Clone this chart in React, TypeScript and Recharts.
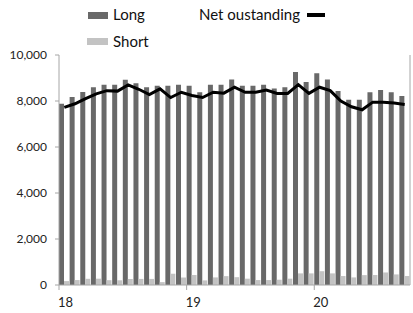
import { ComposedChart, Bar, Line, XAxis, YAxis, Legend } from 'recharts'

const months = [
  'Jan 18', 'Feb 18', 'Mar 18', 'Apr 18', 'May 18', 'Jun 18', 'Jul 18', 'Aug 18', 'Sep 18', 'Oct 18', 'Nov 18', 'Dec 18',
  'Jan 19', 'Feb 19', 'Mar 19', 'Apr 19', 'May 19', 'Jun 19', 'Jul 19', 'Aug 19', 'Sep 19', 'Oct 19', 'Nov 19', 'Dec 19',
  'Jan 20', 'Feb 20', 'Mar 20', 'Apr 20', 'May 20', 'Jun 20', 'Jul 20', 'Aug 20', 'Sep 20',
]

const longPositions = [
  7880, 8170, 8390, 8600, 8710, 8710, 8920, 8770, 8600, 8660, 8660, 8710,
  8660, 8380, 8710, 8710, 8930, 8660, 8660, 8710, 8540, 8600, 9260, 8830,
  9210, 8930, 8430, 8050, 8050, 8380, 8480, 8380, 8220,
]

const shortPositions = [
  170, 215, 270, 275, 210, 205, 265, 265, 265, 125, 490, 325,
  435, 200, 330, 385, 340, 275, 215, 215, 230, 275, 505, 505,
  600, 505, 390, 330, 430, 435, 545, 460, 390,
]

const netOutstanding = [
  7720, 7880, 8100, 8310, 8450, 8430, 8700, 8510, 8280, 8530, 8150, 8380,
  8240, 8150, 8380, 8340, 8600, 8380, 8380, 8480, 8330, 8330, 8710, 8330,
  8600, 8450, 8000, 7750, 7620, 7950, 7950, 7910, 7850,
]

const yTicks = [0, 2000, 4000, 6000, 8000, 10000]

const data = months.map((month, i) => ({
  month,
  long: longPositions[i],
  short: shortPositions[i],
  net: netOutstanding[i],
}))

const LONG_COLOR = '#696969'
const SHORT_COLOR = '#c3c3c3'
const AXIS_COLOR = '#a6a6a6'
const HALF_BAND = 351 / months.length / 2

// year label sits at the start of January, not at the bar centre
function YearTick({ x, y, payload }: any) {
  const v: string = payload.value
  if (!v.startsWith('Jan')) return null
  const x0 = x - HALF_BAND
  return (
    <g>
      <line x1={x0} y1={y} x2={x0} y2={y + 5} stroke={AXIS_COLOR} />
      <text x={x0 - 1} y={y + 22} textAnchor="start" fontSize={13} fill="#222">
        {v.slice(4)}
      </text>
    </g>
  )
}

const legendSpots: Record<string, { sx: number; sy: number; sw: number; sh: number; tx: number; ty: number }> = {
  long: { sx: 88, sy: 12, sw: 20, sh: 7, tx: 113, ty: 5 },
  short: { sx: 87, sy: 38, sw: 21, sh: 7, tx: 113, ty: 32 },
  net: { sx: 307, sy: 13, sw: 18, sh: 4, tx: 199, ty: 5 },
}

function ChartLegend({ payload }: any) {
  return (
    <div style={{ position: 'relative', width: 413, height: 52, fontSize: 15, lineHeight: '18px', color: '#111' }}>
      {(payload || []).map((p: any) => {
        const s = legendSpots[p.dataKey]
        if (!s) return null
        return (
          <div key={p.dataKey}>
            <span style={{ position: 'absolute', left: s.sx, top: s.sy, width: s.sw, height: s.sh, background: p.color }} />
            <span style={{ position: 'absolute', left: s.tx, top: s.ty, whiteSpace: 'nowrap' }}>{p.value}</span>
          </div>
        )
      })}
    </div>
  )
}

export default function App() {
  return (
    <div style={{ position: 'absolute', left: 0, top: 0, fontFamily: 'Lato, sans-serif' }}>
      <ComposedChart
        width={413}
        height={313}
        data={data}
        margin={{ top: 55, right: 0, bottom: 0, left: 0 }}
        barCategoryGap={0}
        barGap={0}
      >
        <XAxis
          dataKey="month"
          height={28}
          interval={0}
          tick={YearTick}
          tickLine={false}
          tickSize={0}
          tickMargin={0}
          axisLine={{ stroke: AXIS_COLOR }}
        />
        <YAxis
          yAxisId="left"
          width={59}
          domain={[0, 10000]}
          ticks={yTicks}
          tickFormatter={(v: number) => v.toLocaleString('en-US')}
          tick={{ fontSize: 12, fill: '#222' }}
          tickSize={4}
          tickMargin={8}
          tickLine={{ stroke: AXIS_COLOR }}
          axisLine={{ stroke: AXIS_COLOR }}
        />
        <YAxis
          yAxisId="right"
          orientation="right"
          width={3}
          domain={[0, 10000]}
          ticks={yTicks}
          tick={false}
          tickSize={3}
          tickLine={{ stroke: AXIS_COLOR }}
          axisLine={{ stroke: AXIS_COLOR }}
        />
        <Legend
          content={ChartLegend}
          layout="horizontal"
          verticalAlign="middle"
          align="center"
          wrapperStyle={{ top: 0, left: 0, width: 413, height: 52 }}
        />
        <Bar yAxisId="left" dataKey="long" name="Long" fill={LONG_COLOR} isAnimationActive={false} />
        <Bar yAxisId="left" dataKey="short" name="Short" fill={SHORT_COLOR} isAnimationActive={false} />
        <Line
          yAxisId="right"
          type="linear"
          dataKey="net"
          name="Net oustanding"
          stroke="#000"
          strokeWidth={3}
          dot={false}
          activeDot={false}
          isAnimationActive={false}
        />
      </ComposedChart>
    </div>
  )
}
